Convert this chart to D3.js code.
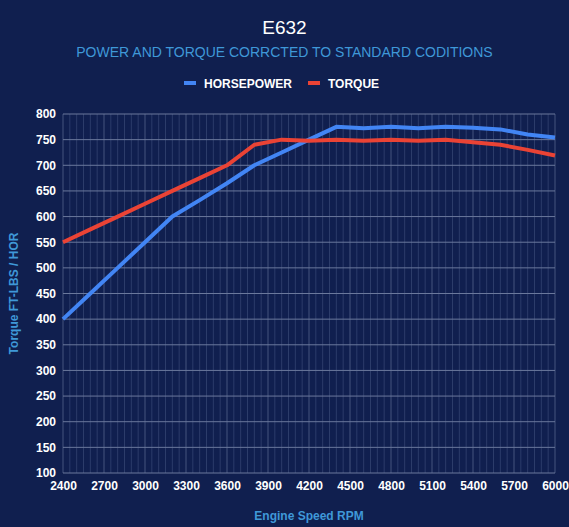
<!DOCTYPE html>
<html>
<head>
<meta charset="utf-8">
<script src="https://cdn.jsdelivr.net/npm/d3@7"></script>
<style>
  html, body { margin: 0; padding: 0; background: #101f4f; }
  svg { display: block; font-family: "Liberation Sans", Arial, sans-serif; }
</style>
</head>
<body>
<div id="chart"></div>
<script>
// Power and torque curves for E632

const rpm = [2400, 2600, 2800, 3000, 3200, 3400, 3600, 3800, 4000, 4200, 4400,
             4600, 4800, 5000, 5200, 5400, 5600, 5800, 6000];
const horsepower = [400, 450, 500, 550, 600, 632, 665, 700, 725, 750, 775,
                    772, 775, 772, 775, 773, 770, 760, 754];
const torque = [550, 575, 600, 625, 650, 675, 700, 740, 750, 748, 750,
                748, 750, 748, 750, 745, 740, 730, 719];
const xTicks = [2400, 2700, 3000, 3300, 3600, 3900, 4200, 4500, 4800, 5100, 5400, 5700, 6000];
const yTicks = [100, 150, 200, 250, 300, 350, 400, 450, 500, 550, 600, 650, 700, 750, 800];
const seriesNames = ["HORSEPOWER", "TORQUE"];
const seriesColors = ["#4285f4", "#ea4335"];

const width = 569,
    height = 527,
    margin = ({top: 114, right: 14, bottom: 54, left: 63});

let svg = d3.select("#chart")
    .append("svg")
    .attr("width", width)
    .attr("height", height);

svg.append("rect")
    .attr("width", width)
    .attr("height", height)
    .attr("fill", "#101f4f");

const x = d3.scaleLinear()
    .domain([2400, 6000])
    .range([margin.left, width - margin.right]);

const y = d3.scaleLinear()
    .domain([100, 800])
    .range([height - margin.bottom, margin.top]);

// minor vertical grid every 50 rpm
svg.append("g")
    .selectAll("line")
    .data(d3.range(2400, 6001, 50))
    .join("line")
    .attr("x1", d => x(d)).attr("x2", d => x(d))
    .attr("y1", y(800)).attr("y2", y(100))
    .attr("stroke", d => d % 300 === 0 ? "#45557f" : "#2c3c6a")
    .attr("stroke-width", 1);

// horizontal grid
svg.append("g")
    .selectAll("line")
    .data(yTicks)
    .join("line")
    .attr("x1", x(2400)).attr("x2", x(6000))
    .attr("y1", d => y(d)).attr("y2", d => y(d))
    .attr("stroke", "#6a789c")
    .attr("stroke-width", 1);

// axes
const xAxis = g => g
    .attr("transform", `translate(0,${height - margin.bottom})`)
    .call(d3.axisBottom(x).tickValues(xTicks).tickSize(0).tickPadding(8).tickFormat(d3.format("d")))
    .call(g => g.select(".domain").remove());

const yAxis = g => g
    .attr("transform", `translate(${margin.left},0)`)
    .call(d3.axisLeft(y).tickValues(yTicks).tickSize(0).tickPadding(7))
    .call(g => g.select(".domain").remove());

svg.append("g").call(xAxis);
svg.append("g").call(yAxis);

svg.selectAll(".tick text")
    .attr("fill", "#ffffff")
    .attr("font-size", 12)
    .attr("font-weight", "bold")
    .attr("font-family", "Liberation Sans, Arial, sans-serif");

// lines
const line = d3.line()
    .x((d, i) => x(rpm[i]))
    .y(d => y(d));

[horsepower, torque].forEach((s, i) => {
    svg.append("path")
        .datum(s)
        .attr("fill", "none")
        .attr("stroke", seriesColors[i])
        .attr("stroke-width", 4)
        .attr("stroke-linejoin", "round")
        .attr("d", line);
});

// titles
svg.append("text")
    .text("E632")
    .attr("x", width / 2)
    .attr("y", 34)
    .attr("text-anchor", "middle")
    .attr("fill", "#ffffff")
    .attr("font-size", 19);

svg.append("text")
    .text("POWER AND TORQUE CORRCTED TO STANDARD CODITIONS")
    .attr("x", width / 2)
    .attr("y", 57)
    .attr("text-anchor", "middle")
    .attr("fill", "#3f98d8")
    .attr("font-size", 14);

// legend
const legendX = [184, 308];
seriesNames.forEach((name, i) => {
    svg.append("rect")
        .attr("x", legendX[i])
        .attr("y", 81)
        .attr("width", 12)
        .attr("height", 4)
        .attr("fill", seriesColors[i]);
    svg.append("text")
        .text(name)
        .attr("x", legendX[i] + 20)
        .attr("y", 88)
        .attr("fill", "#ffffff")
        .attr("font-size", 12)
        .attr("font-weight", "bold");
});

// axis titles
svg.append("text")
    .text("Engine Speed RPM")
    .attr("x", (x(2400) + x(6000)) / 2)
    .attr("y", 520)
    .attr("text-anchor", "middle")
    .attr("fill", "#3f98d8")
    .attr("font-size", 12)
    .attr("font-weight", "bold");

svg.append("text")
    .text("Torque FT-LBS / HOR")
    .attr("transform", `translate(18,${(y(100) + y(800)) / 2}) rotate(-90)`)
    .attr("text-anchor", "middle")
    .attr("fill", "#3f98d8")
    .attr("font-size", 12)
    .attr("font-weight", "bold");
</script>
</body>
</html>
